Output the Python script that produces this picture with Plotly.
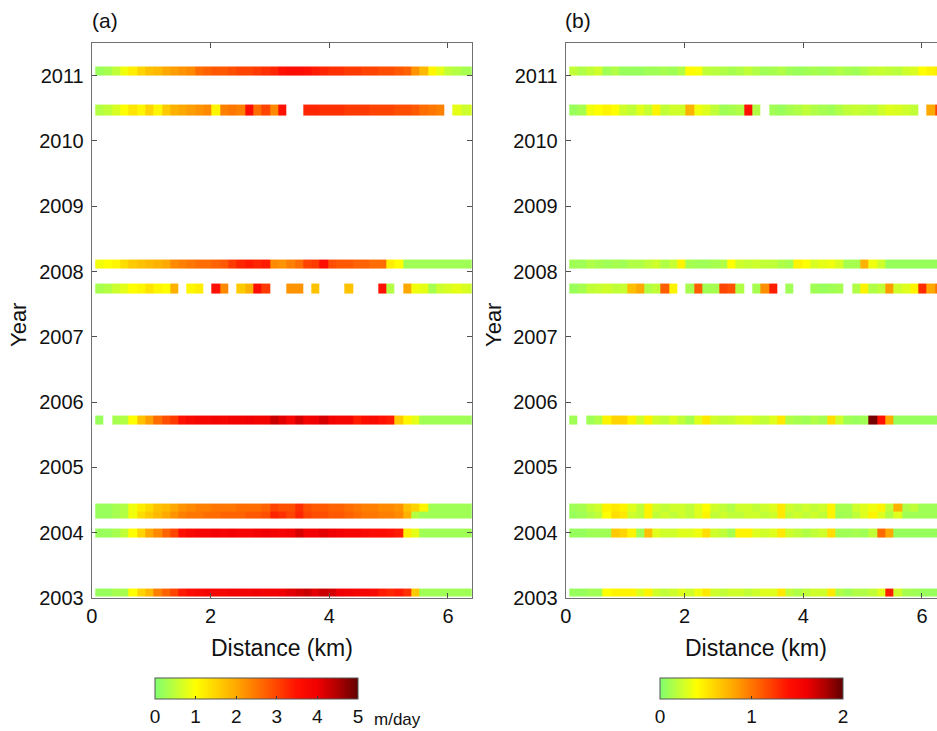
import numpy as np
import plotly.graph_objects as go

nan = float("nan")

# ---------------- data ----------------
cell_km = 0.14          # along-flow sampling interval (km)
first_cell_km = 0.06    # distance of first sample (km)
n_cells = 46

# acquisition bands (decimal year start / end), bottom to top
band_start = [2003.02, 2003.93, 2004.21, 2004.32, 2005.65, 2007.66, 2008.04, 2010.39, 2011.00]
band_end   = [2003.15, 2004.07, 2004.32, 2004.45, 2005.79, 2007.81, 2008.18, 2010.56, 2011.14]

# (a) velocity, m/day
a_2003 = [0.2,0.2,0.3,0.3,1.0,1.5,1.8,2.4,2.7,3.0,
          3.4,3.6,3.7,3.8,3.8,3.8,3.9,3.9,3.9,4.0,
          3.9,3.9,4.0,4.1,4.2,4.3,4.1,4.3,4.2,4.0,
          3.9,3.8,3.8,3.7,3.4,3.3,3.4,3.2,1.6,0.25,
          0.25,0.25,0.25,0.25,0.25,0.25]
a_2004 = [0.2,0.2,0.3,0.5,1.0,1.5,2.0,2.3,2.7,3.0,
          3.5,3.7,3.8,3.8,3.9,3.8,3.9,3.8,3.8,3.9,
          4.0,3.9,3.8,3.9,4.2,3.9,3.9,4.1,4.0,3.9,
          3.8,3.8,3.7,3.6,3.6,3.5,3.4,1.2,0.8,0.25,
          0.25,0.25,0.25,0.25,0.25,0.25]
a_2004b = [0.2,0.2,0.3,0.4,0.9,1.4,1.6,1.8,2.0,2.2,
           2.4,2.5,2.5,2.6,2.6,2.7,2.7,2.7,2.8,2.8,
           2.9,3.3,3.2,3.0,3.3,3.0,2.9,2.9,2.8,2.8,
           2.7,2.6,2.5,2.5,2.4,2.4,2.3,1.9,0.4,0.25,
           0.25,0.25,0.25,0.25,0.25,0.25]
a_2004t = [0.2,0.2,0.3,0.4,0.9,1.2,1.4,1.7,1.8,2.0,
           2.2,2.3,2.4,2.4,2.5,2.5,2.5,2.6,2.6,2.6,
           2.7,3.0,2.9,2.9,3.2,2.9,2.8,2.8,2.7,2.7,
           2.6,2.5,2.4,2.4,2.3,2.3,2.2,1.7,1.5,1.1,
           0.25,0.25,0.25,0.25,0.25,0.25]
a_2005 = [0.2,nan,0.3,0.4,1.0,1.7,2.1,2.6,2.9,3.1,
          3.5,3.7,3.8,3.8,3.9,3.8,3.9,3.9,4.0,3.9,
          3.9,4.3,4.1,3.8,4.2,3.9,4.0,4.2,3.9,3.8,
          3.8,3.4,3.6,3.7,3.5,3.4,1.6,1.1,0.8,0.25,
          0.25,0.25,0.25,0.25,0.25,0.25]
a_2007 = [0.3,0.4,0.6,0.8,1.0,1.1,1.3,1.1,1.0,1.9,
          nan,1.1,1.2,nan,3.5,2.3,nan,1.6,1.9,3.6,
          3.1,nan,nan,2.2,2.2,nan,1.7,nan,nan,nan,
          1.7,nan,nan,nan,3.5,0.4,nan,2.0,0.9,0.8,
          0.3,0.6,0.7,0.8,0.7,0.6]
a_2008 = [0.9,1.0,1.1,1.4,1.6,1.7,1.8,1.9,2.0,2.3,
          2.4,2.5,2.6,2.6,2.7,2.8,3.1,3.3,3.4,3.3,
          3.4,2.3,2.2,2.4,2.6,3.0,3.1,3.6,2.9,2.8,
          2.8,2.7,2.7,2.6,2.6,1.2,1.0,0.25,0.25,0.25,
          0.25,0.25,0.25,0.25,0.25,0.25]
a_2010 = [0.4,0.5,0.7,1.0,1.3,1.1,1.5,1.1,1.6,1.9,
          2.0,2.1,2.2,2.3,1.1,2.4,2.5,2.4,3.6,2.6,
          3.0,2.3,3.5,nan,nan,3.3,3.3,3.2,3.2,3.2,
          3.1,3.1,3.1,3.0,3.0,3.0,2.9,2.9,2.8,2.6,
          2.5,2.4,nan,0.8,0.6,0.7]
a_2011 = [0.2,0.3,0.5,0.9,1.2,1.5,1.7,1.8,2.0,2.1,
          2.2,2.3,2.6,2.7,2.8,2.8,2.9,3.0,3.0,3.1,
          3.2,3.3,3.5,3.6,3.6,3.5,3.4,3.3,3.2,3.2,
          3.1,3.1,3.0,3.0,2.9,2.9,2.8,2.7,2.2,1.8,
          1.1,0.8,0.5,0.4,0.3,0.3]

# (b) velocity, m/day
b_2003 = [0.07,0.07,0.1,0.1,0.4,0.45,0.45,0.45,0.3,0.45,
          0.25,0.2,0.25,0.3,0.25,0.35,0.5,0.25,0.2,0.25,
          0.25,0.2,0.25,0.3,0.3,0.5,0.2,0.15,0.2,0.25,
          0.25,0.5,0.15,0.1,0.15,0.15,0.2,0.3,1.35,0.25,
          0.12,0.1,0.08,0.08,0.08,0.08]
b_2004 = [0.07,0.07,0.1,0.1,0.1,0.65,0.6,0.45,0.1,0.7,
          0.3,0.25,0.25,0.3,0.3,0.35,0.55,0.25,0.2,0.12,
          0.45,0.45,0.3,0.25,0.3,0.5,0.25,0.2,0.15,0.2,
          0.25,0.55,0.1,0.1,0.12,0.1,0.2,1.05,0.8,0.07,
          0.07,0.07,0.07,0.07,0.07,0.07]
b_2004b = [0.08,0.1,0.15,0.2,0.4,0.55,0.5,0.25,0.2,0.45,
           0.2,0.25,0.2,0.25,0.2,0.3,0.45,0.2,0.25,0.2,
           0.2,0.25,0.25,0.2,0.25,0.5,0.2,0.25,0.2,0.25,
           0.2,0.45,0.1,0.12,0.2,0.3,0.45,0.3,0.15,0.3,
           0.1,0.1,0.1,0.1,0.1,0.1]
b_2004t = [0.1,0.12,0.2,0.25,0.45,0.5,0.45,0.3,0.2,0.45,
           0.25,0.2,0.25,0.25,0.2,0.3,0.4,0.25,0.2,0.15,
           0.25,0.25,0.2,0.25,0.3,0.5,0.25,0.2,0.25,0.2,
           0.25,0.45,0.12,0.12,0.25,0.3,0.35,0.45,0.2,0.75,
           0.15,0.2,0.1,0.1,0.1,0.1]
b_2005 = [0.1,nan,0.1,0.15,0.45,0.6,0.6,0.45,0.25,0.45,
          0.25,0.2,0.3,0.2,0.12,0.3,0.5,0.25,0.2,0.22,
          0.28,0.3,0.25,0.2,0.3,0.5,0.15,0.12,0.1,0.15,
          0.12,0.55,0.25,0.1,0.08,0.1,1.95,1.4,0.8,0.07,
          0.07,0.07,0.07,0.07,0.07,0.07]
b_2007 = [0.08,0.12,0.2,0.22,0.25,0.2,0.22,0.7,0.8,0.15,
          0.2,1.1,0.45,nan,0.12,1.1,0.1,0.12,1.2,1.15,
          0.15,nan,0.12,0.9,1.35,nan,0.1,nan,nan,0.1,
          0.08,0.1,0.12,nan,0.15,0.45,0.15,0.2,0.85,0.25,
          0.3,0.45,1.3,0.8,1.0,0.9]
b_2008 = [0.1,0.1,0.15,0.12,0.1,0.12,0.1,0.15,0.15,0.2,
          0.25,0.15,0.22,0.45,0.12,0.1,0.1,0.12,0.15,0.4,
          0.25,0.22,0.25,0.2,0.2,0.15,0.12,0.45,0.4,0.28,
          0.32,0.35,0.28,0.12,0.12,0.75,0.35,0.25,0.07,0.07,
          0.07,0.07,0.07,0.07,0.07,0.07]
b_2010 = [0.08,0.12,0.35,0.4,0.45,0.4,0.25,0.2,0.3,0.22,
          0.45,0.2,0.25,0.25,0.75,0.35,0.3,0.2,0.1,0.12,
          0.15,1.4,0.15,nan,0.1,0.08,0.12,0.15,0.2,0.15,
          0.12,0.1,0.15,0.2,0.22,0.2,0.18,0.25,0.3,0.28,
          0.25,0.2,nan,0.8,1.2,1.0]
b_2011 = [0.2,0.15,0.2,0.25,0.1,0.15,0.07,0.08,0.07,0.1,
          0.1,0.12,0.1,0.15,0.42,0.38,0.2,0.18,0.15,0.12,
          0.15,0.2,0.15,0.1,0.12,0.15,0.1,0.08,0.1,0.12,
          0.1,0.12,0.15,0.12,0.1,0.15,0.2,0.22,0.2,0.18,
          0.25,0.28,0.4,0.45,0.5,0.4]

panel_a_bands = [a_2003, a_2004, a_2004b, a_2004t, a_2005, a_2007, a_2008, a_2010, a_2011]
panel_b_bands = [b_2003, b_2004, b_2004b, b_2004t, b_2005, b_2007, b_2008, b_2010, b_2011]

year_ticks = list(range(2003, 2012))
dist_ticks = [0, 2, 4, 6]
cbar_a_ticks = [0, 1, 2, 3, 4, 5]
cbar_b_ticks = [0, 1, 2]

# ---------------- build bricks ----------------
def build(bands):
    edges = [band_start[0]]
    rows = []
    for i, vals in enumerate(bands):
        if i > 0 and band_start[i] > edges[-1] + 1e-9:
            rows.append([nan] * n_cells)
            edges.append(band_start[i])
        rows.append(vals)
        edges.append(band_end[i])
    return np.array(rows, dtype=float), edges

x_edges = [first_cell_km + cell_km * i for i in range(n_cells + 1)]
za, ye = build(panel_a_bands)
zb, _ = build(panel_b_bands)

colorscale = [
    [0.0, "#80FF70"],
    [0.2, "#FFFF00"],
    [0.4, "#FFA800"],
    [0.6, "#FF4400"],
    [0.7, "#FF1000"],
    [0.8, "#F00000"],
    [0.9, "#B00000"],
    [1.0, "#600000"],
]

W, H = 937, 731
FONT = "Liberation Sans, Arial, Helvetica, sans-serif"

# pixel geometry
a_left, a_right = 91.7, 471.7
b_left = 565.7
p_top, p_bot = 43, 598
px_per_km = (a_right - a_left) / 6.4

fig = go.Figure()
fig.add_trace(go.Heatmap(z=za, x=x_edges, y=ye, coloraxis="coloraxis",
                         xaxis="x", yaxis="y", hoverongaps=False))
fig.add_trace(go.Heatmap(z=zb, x=x_edges, y=ye, coloraxis="coloraxis2",
                         xaxis="x2", yaxis="y2", hoverongaps=False))

axis_common = dict(showline=True, linecolor="#707070", linewidth=1,
                   ticks="inside", ticklen=5, tickcolor="#505050",
                   showgrid=False, zeroline=False, automargin=False,
                   tickfont=dict(family=FONT, size=20, color="#111"))

ydom = [1 - p_bot / H, 1 - p_top / H]
fig.update_layout(
    width=W, height=H,
    margin=dict(l=0, r=0, t=0, b=0, autoexpand=False),
    paper_bgcolor="white", plot_bgcolor="white",
    font=dict(family=FONT, color="#111"),
    xaxis=dict(domain=[a_left / W, a_right / W], range=[0, 6.4],
               tickvals=dist_ticks, mirror="ticks", anchor="y", **axis_common),
    yaxis=dict(domain=ydom, range=[2003, 2011.5], tickvals=year_ticks,
               mirror="ticks", anchor="x", ticklabelstandoff=3, **axis_common),
    xaxis2=dict(domain=[b_left / W, 1.0], range=[0, (W - b_left) / px_per_km],
                tickvals=dist_ticks, mirror="ticks", anchor="y2", **axis_common),
    yaxis2=dict(domain=ydom, range=[2003, 2011.5], tickvals=year_ticks,
                mirror=False, anchor="x2", ticklabelstandoff=3, **axis_common),
    coloraxis=dict(cmin=0, cmax=5, colorscale=colorscale,
                   colorbar=dict(orientation="h", thickness=21, thicknessmode="pixels",
                                 len=203, lenmode="pixels",
                                 x=(155 + 101.5) / W, xanchor="center",
                                 y=1 - 678 / H, yanchor="top", xpad=0, ypad=0,
                                 outlinewidth=1, outlinecolor="#555",
                                 tickvals=cbar_a_ticks, ticks="inside", ticklen=3,
                                 tickcolor="#333",
                                 tickfont=dict(family=FONT, size=19, color="#111"))),
    coloraxis2=dict(cmin=0, cmax=2, colorscale=colorscale,
                    colorbar=dict(orientation="h", thickness=21, thicknessmode="pixels",
                                  len=183, lenmode="pixels",
                                  x=(660 + 91.5) / W, xanchor="center",
                                  y=1 - 678 / H, yanchor="top", xpad=0, ypad=0,
                                  outlinewidth=1, outlinecolor="#555",
                                  tickvals=cbar_b_ticks, ticks="inside", ticklen=3,
                                  tickcolor="#333",
                                  tickfont=dict(family=FONT, size=19, color="#111"))),
)

def ann(text, x, y, size, angle=0, xanchor="center"):
    fig.add_annotation(text=text, x=x / W, y=1 - y / H, xref="paper", yref="paper",
                       showarrow=False, textangle=angle, xanchor=xanchor, yanchor="middle",
                       font=dict(family=FONT, size=size, color="#111"))

ann("(a)", 105, 21, 21)
ann("(b)", 578, 21, 21)
ann("Year", 18, 325, 22, angle=-90)
ann("Year", 493, 325, 22, angle=-90)
ann("Distance (km)", 282, 648, 23)
ann("Distance (km)", 756, 648, 23)
ann("m/day", 397, 719, 17)

fig.write_html("out.html")
